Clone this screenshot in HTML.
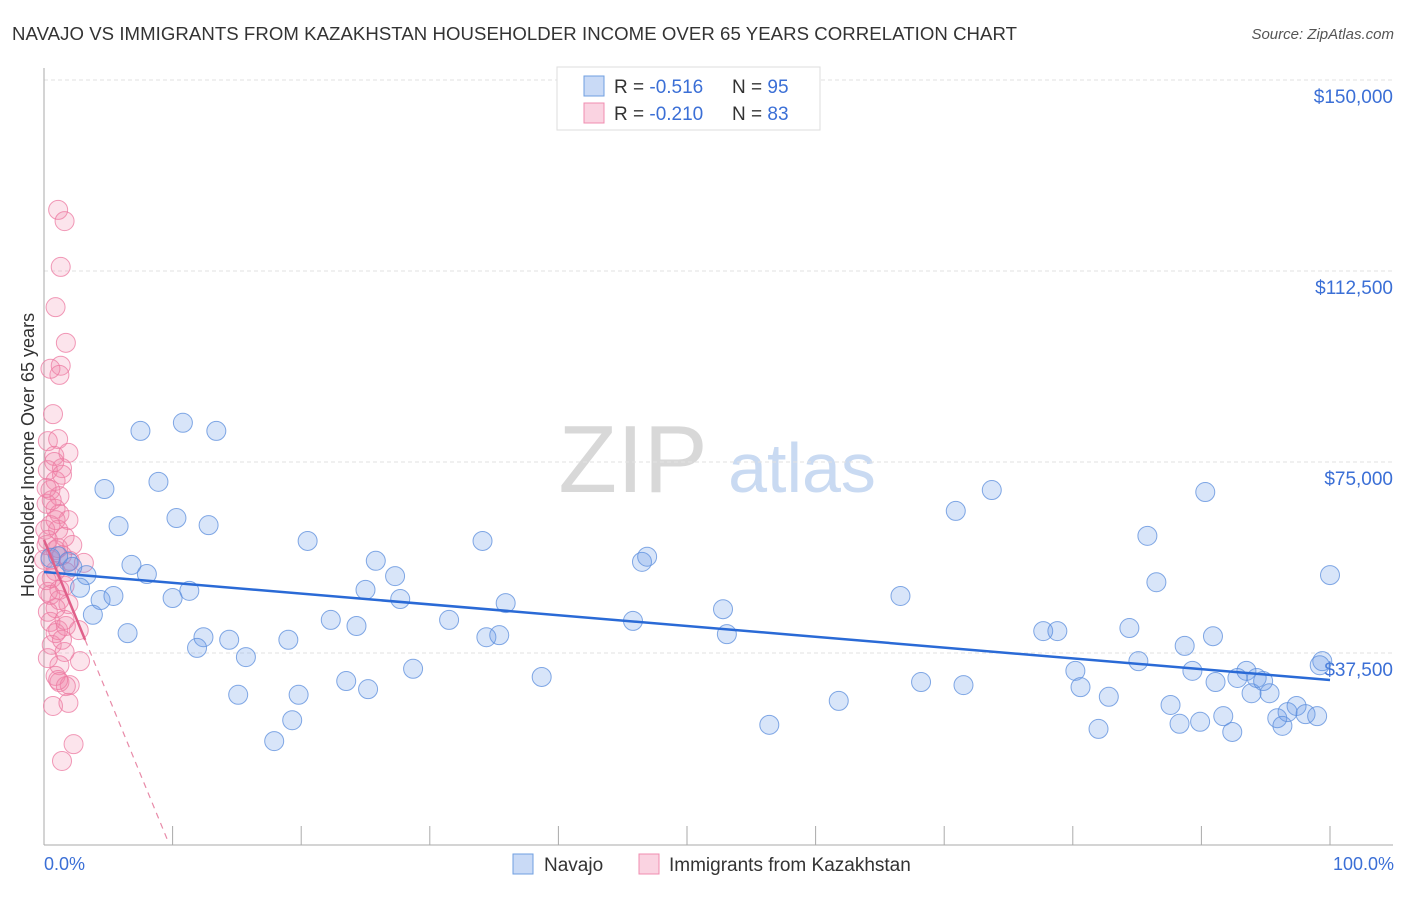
<!DOCTYPE html>
<html><head><meta charset="utf-8"><style>
body{margin:0;background:#fff;font-family:"Liberation Sans",sans-serif}
#c{position:relative;width:1406px;height:892px}
text{font-family:"Liberation Sans",sans-serif}
</style></head><body>
<div id="c">
<svg id="s" width="1406" height="892">
<text x="12" y="40" font-size="18.6" fill="#333" textLength="1005">NAVAJO VS IMMIGRANTS FROM KAZAKHSTAN HOUSEHOLDER INCOME OVER 65 YEARS CORRELATION CHART</text>
<text x="1394" y="39" font-size="15" fill="#555" text-anchor="end" font-style="italic">Source: ZipAtlas.com</text>
<text x="633" y="492" font-size="96" fill="#d8d8d8" font-family="Liberation Serif" text-anchor="middle">ZIP</text>
<text x="802" y="492" font-size="70" fill="#c9daf2" text-anchor="middle">atlas</text>
<g id="grid"></g><g id="axes"></g><g id="pts"></g><g id="trend"></g>
<text transform="translate(34,455) rotate(-90)" font-size="18" fill="#333" text-anchor="middle">Householder Income Over 65 years</text>
<text x="44" y="870" font-size="18" fill="#3b6fd6">0.0%</text>
<text x="1394" y="870" font-size="18" fill="#3b6fd6" text-anchor="end">100.0%</text>
<g>
<rect x="557" y="67" width="263" height="63" fill="#fff" stroke="#ddd"/>
<rect x="584" y="76" width="20" height="20" fill="rgba(100,150,230,0.35)" stroke="#6f9fe0"/>
<text x="614" y="93" font-size="19" fill="#333">R = <tspan fill="#3b6fd6">-0.516</tspan><tspan x="732">N = </tspan><tspan fill="#3b6fd6">95</tspan></text>
<rect x="584" y="103" width="20" height="20" fill="rgba(240,130,170,0.35)" stroke="#f08db0"/>
<text x="614" y="120" font-size="19" fill="#333">R = <tspan fill="#3b6fd6">-0.210</tspan><tspan x="732">N = </tspan><tspan fill="#3b6fd6">83</tspan></text>
</g>
<g>
<rect x="513" y="854" width="20" height="20" fill="rgba(100,150,230,0.35)" stroke="#6f9fe0"/>
<text x="544" y="871" font-size="19" fill="#333">Navajo</text>
<rect x="639" y="854" width="20" height="20" fill="rgba(240,130,170,0.35)" stroke="#f08db0"/>
<text x="669" y="871" font-size="19" fill="#333">Immigrants from Kazakhstan</text>
</g>
</svg></div>
<script>
const yTicks=[37500,75000,112500,150000];
const yTickLabels=["$37,500","$75,000","$112,500","$150,000"];
const xTicks=[10,20,30,40,50,60,70,80,90,100];
const navajoX=[7.5,10.8,13.4,4.7,8.9,10.3,12.8,5.8,3.3,1.9,2.8,4.4,5.4,3.8,6.8,8.0,10.0,11.3,6.5,12.4,11.9,14.4,15.7,15.1,17.9,19.3,19.8,19.0,20.5,22.3,23.5,24.3,25.2,25.0,25.8,27.3,27.7,28.7,31.5,34.1,34.4,35.4,35.9,38.7,45.8,46.5,46.9,52.8,53.1,56.4,61.8,66.6,68.2,70.9,71.5,73.7,77.7,78.8,80.2,80.6,82.0,82.8,84.4,85.1,85.8,86.5,87.6,88.3,88.7,89.3,89.9,90.3,90.9,91.1,91.7,92.4,92.8,93.5,93.9,94.3,94.8,95.3,95.9,96.3,96.7,97.4,98.1,99.0,99.4,100,99.2,1.1,2.2,0.5];
const navajoY=[81.1,82.7,81.1,69.7,71.1,64.0,62.6,62.4,52.8,55.4,50.3,47.9,48.7,45.0,54.8,53.0,48.3,49.7,41.4,40.6,38.5,40.1,36.7,29.3,20.2,24.3,29.3,40.1,59.5,44.0,32.0,42.8,30.4,49.9,55.6,52.6,48.1,34.4,44.0,59.5,40.6,41.0,47.3,32.8,43.8,55.4,56.4,46.1,41.2,23.4,28.1,48.7,31.8,65.4,31.2,69.5,41.8,41.8,34.0,30.8,22.6,28.9,42.4,35.9,60.5,51.4,27.3,23.6,38.9,34.0,24.0,69.1,40.8,31.8,25.1,22.0,32.6,34.0,29.6,32.6,32.0,29.6,24.7,23.2,25.9,27.1,25.5,25.1,35.9,52.8,35.1,56.5,54.4,56.2];
const kazX=[1.1,1.6,1.3,0.9,1.7,1.3,1.2,0.5,0.7,0.3,1.1,1.9,0.8,1.4,0.3,0.9,0.5,1.2,0.2,0.9,1.2,1.9,0.5,1.1,1.6,0.2,0.9,1.4,0.5,2.0,3.1,0.9,0.6,1.6,0.3,1.2,1.9,0.9,0.5,1.1,1.7,2.7,0.6,1.6,2.8,1.2,0.9,1.2,2.0,1.7,0.7,1.9,2.3,1.4,0.1,0.3,0.6,0.2,0.3,0.9,1.4,0,1.1,1.7,0.5,2.2,0.2,0.8,1.4,0.9,1.2,0.3,1.1,1.6];
const kazY=[124.5,122.3,113.3,105.4,98.4,93.9,92.1,93.3,84.4,79.1,79.5,76.8,76.2,73.8,73.4,71.3,69.5,68.3,66.8,65.8,64.8,63.6,62.6,61.7,60.3,58.7,57.7,56.7,55.8,55.6,55.2,53.6,52.2,50.7,49.5,47.9,47.1,46.3,43.6,42.0,42.8,42.0,39.1,37.7,35.9,35.1,33.0,31.8,31.2,31.0,27.1,27.7,19.6,16.3,61.7,59.7,67.5,51.8,45.6,41.4,40.1,55.8,58.1,53.4,48.9,58.7,69.9,75.0,72.5,63.6,49.9,36.5,32.2,44.0];
const navajoTrend=[53.4,32.2];
const kazTrend=[59.7,0.8,9.6,3.2];
const NS='http://www.w3.org/2000/svg';
const X=p=>44+p/100*1286, Y=v=>844-v/150*764;
function mk(t,a,parent){const e=document.createElementNS(NS,t);for(const k in a)e.setAttribute(k,a[k]);document.getElementById(parent).appendChild(e);return e;}
yTicks.forEach((v,i)=>{
 const l=mk('line',{x1:44,x2:1393,y1:Y(v/1000),y2:Y(v/1000),stroke:'#e2e2e2','stroke-dasharray':'4,3'},'grid');
 
 
 const t=mk('text',{x:1393,y:Y(v/1000)+23,'font-size':19,fill:'#3b6fd6','text-anchor':'end'},'grid');
 t.textContent=yTickLabels[i];
 
 
});
let ax=mk('line',{x1:44,x2:44,y1:68,y2:845,stroke:'#aaa'},'axes');


ax=mk('line',{x1:44,x2:1393,y1:845,y2:845,stroke:'#aaa'},'axes');


xTicks.forEach(p=>{
 const t=mk('line',{x1:X(p),x2:X(p),y1:826,y2:845,stroke:'#aaa'},'axes');
 
 
});
kazX.forEach((x,i)=>{
 const c=mk('circle',{cx:X(x),cy:Y(kazY[i]),r:9.5,fill:'rgba(240,130,170,0.22)',stroke:'rgba(236,120,160,0.75)','stroke-width':1},'pts');
 
 
});
navajoX.forEach((x,i)=>{
 const c=mk('circle',{cx:X(x),cy:Y(navajoY[i]),r:9.5,fill:'rgba(100,150,230,0.25)',stroke:'rgba(90,140,220,0.75)','stroke-width':1},'pts');
 
 
});
let tl=mk('line',{x1:X(0),y1:Y(navajoTrend[0]),x2:X(100),y2:Y(navajoTrend[1]),stroke:'#2a6ad6','stroke-width':2.5},'trend');


const kv=p=>kazTrend[0]+(kazTrend[1]-kazTrend[0])*p/kazTrend[2];
tl=mk('line',{x1:X(0),y1:Y(kazTrend[0]),x2:X(kazTrend[3]),y2:Y(kv(kazTrend[3])),stroke:'#e0608a','stroke-width':2.5},'trend');


tl=mk('line',{x1:X(kazTrend[3]),y1:Y(kv(kazTrend[3])),x2:X(kazTrend[2]),y2:Y(kazTrend[1]),stroke:'#e88aa8','stroke-width':1.2,'stroke-dasharray':'6,5'},'trend');


</script></body></html>
